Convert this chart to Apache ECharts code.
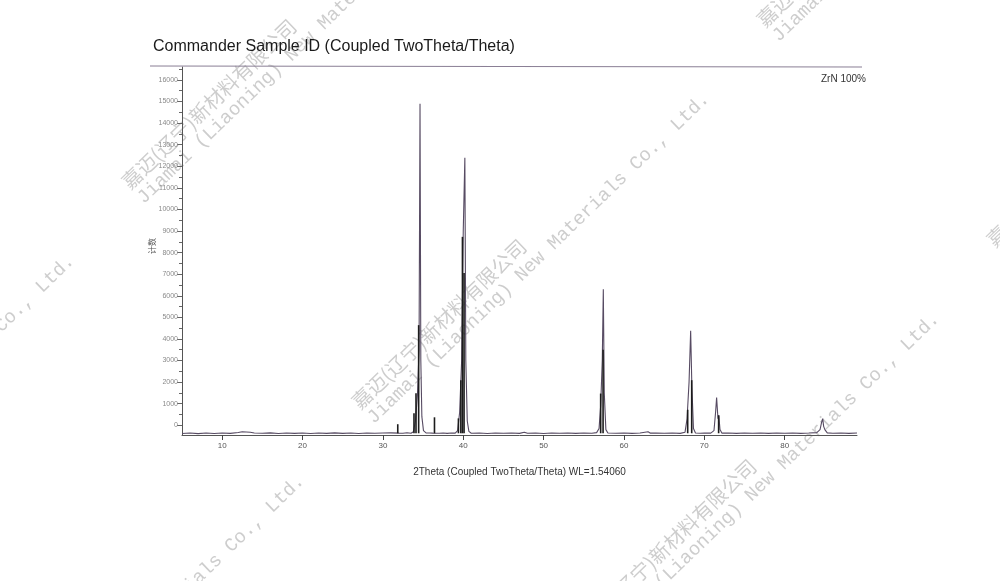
<!DOCTYPE html>
<html>
<head>
<meta charset="utf-8">
<script src="https://cdn.jsdelivr.net/npm/echarts@6/dist/echarts.min.js"></script>
<style>html,body{margin:0;padding:0;background:#fff}#c{width:1000px;height:581px}</style>
</head>
<body>
<div id="c"></div>
<script>
// ---- data ----
const titleText = 'Commander Sample ID (Coupled TwoTheta/Theta)';
const xAxisTitle = '2Theta (Coupled TwoTheta/Theta) WL=1.54060';
const yAxisTitle = '计数';
const legendText = 'ZrN 100%';
const xTickLabels = [10, 20, 30, 40, 50, 60, 70, 80];
const yTickLabels = [0,1000,2000,3000,4000,5000,6000,7000,8000,9000,10000,11000,12000,13000,14000,15000,16000];
const yMinorTicks = [500,1500,2500,3500,4500,5500,6500,7500,8500,9500,10500,11500,12500,13500,14500,15500,16500];
// measured scan [2theta, counts]
const scan = [
[5,-380],[6,-360],[7,-385],[8,-355],[9,-380],[10,-360],[11,-375],[12,-335],[12.5,-300],[13,-310],[13.5,-325],[14,-355],
[15,-370],[16,-350],[17,-380],[18,-360],[19,-375],[20,-355],[21,-380],[22,-360],[23,-375],[24,-350],[25,-375],[26,-360],
[27,-380],[28,-355],[29,-370],[30,-360],[31,-350],[32,-365],[32.5,-370],[33,-345],[33.5,-370],
[33.8,-300],[34.05,200],[34.3,1400],[34.5,3500],[34.62,14900],[34.72,3000],[34.85,400],[35.05,-250],[35.4,-360],
[35.8,-355],[36.2,-365],[37,-370],[37.5,-355],[38,-375],[38.5,-360],[39.0,-365],
[39.3,-250],[39.55,600],[39.8,3000],[40.0,9000],[40.2,12400],[40.32,3000],[40.5,200],[40.7,-280],
[41,-370],[42,-355],[43,-380],[44,-360],[45,-370],[46,-355],[47,-375],[47.6,-320],[48,-370],[49,-355],[50,-380],
[51,-360],[52,-370],[53,-355],[54,-375],[55,-360],[56,-370],[56.6,-340],
[56.9,-150],[57.1,900],[57.3,3000],[57.43,6300],[57.55,1500],[57.75,-200],[58,-360],
[59,-370],[60,-355],[61,-375],[62,-360],[63,-300],[63.3,-365],[64,-355],[65,-370],[66,-360],[67,-375],[67.6,-320],
[67.85,300],[68.1,2000],[68.3,4380],[68.45,1800],[68.65,-150],[68.9,-360],
[69.5,-370],[70,-355],[70.8,-365],[71.2,-250],[71.4,600],[71.53,1280],[71.7,300],[71.8,460],[71.95,-200],[72.2,-365],
[73,-355],[74,-375],[75,-360],[76,-370],[77,-355],[78,-375],[79,-360],[80,-370],[81,-355],[82,-375],[83,-360],
[84,-340],[84.4,-200],[84.6,150],[84.73,310],[84.85,-50],[85,-200],[85.3,-350],[86,-370],[87,-355],[88,-375],[89,-360]
];
// dark stick lines [2theta, counts], drawn up from the scan baseline
const stickBase = -370;
const sticks = [
[31.85,50],[33.87,560],[34.12,1480],[34.45,4640],[36.42,370],
[39.4,320],[39.7,2090],[39.9,8730],[40.1,7050],
[57.1,1470],[57.4,3500],[67.93,720],[68.43,2090],[71.78,460]
];
const wmChinese = '嘉迈(辽宁)新材料有限公司';
const wmEnglish = 'Jiamai (Liaoning) New Materials Co., Ltd.';

// ---- layout ----
const wmAnchors = [[125,185],[355,405],[585,625],[760,23],[990,243],[-280,567],[-50,787]];
const wmRot = 44 * Math.PI / 180;

const chart = echarts.init(document.getElementById('c'), null, {renderer:'canvas'});
const graphics = [
  {type:'line', shape:{x1:150,y1:66,x2:862,y2:67}, style:{stroke:'#8a7f95', lineWidth:1.2}, z:5},
  {type:'text', x:866, y:79, style:{text:legendText, align:'right', verticalAlign:'middle', font:'10px "Liberation Sans"', fill:'#333'}, z:5},
  {type:'text', x:152, y:246, rotation:Math.PI/2, style:{text:yAxisTitle, align:'center', verticalAlign:'middle', font:'8px "Noto Sans CJK SC"', fill:'#555'}, z:5}
];
wmAnchors.forEach(p => {
  graphics.push({
    type:'group', x:p[0], y:p[1], rotation:wmRot, z:50, silent:true,
    children:[
      {type:'text', x:0, y:0, style:{text:wmChinese, align:'left', verticalAlign:'middle', font:'20px "Noto Sans CJK SC"', fill:'rgba(130,130,130,0.4)'}},
      {type:'text', x:0, y:22, style:{text:wmEnglish, align:'left', verticalAlign:'middle', font:'19px "Liberation Mono"', fill:'rgba(130,130,130,0.4)'}}
    ]
  });
});

const yMin = -450, yMax = 16600;
chart.setOption({
  animation:false,
  backgroundColor:'#fff',
  title:{text:titleText, left:153, top:39, padding:0, textStyle:{fontSize:16, fontWeight:'normal', color:'#1a1a1a', fontFamily:'Liberation Sans'}},
  grid:{left:182, right:143, top:67, bottom:146, containLabel:false},
  xAxis:{
    type:'value', min:5, max:89,
    name:xAxisTitle, nameLocation:'middle', nameGap:32,
    nameTextStyle:{fontSize:10, color:'#333', fontFamily:'Liberation Sans'},
    axisLine:{show:true, onZero:false, lineStyle:{color:'#555', width:1}},
    axisTick:{show:true, length:5, customValues:xTickLabels, lineStyle:{color:'#444'}},
    axisLabel:{customValues:xTickLabels, fontSize:8, color:'#555', margin:7, fontFamily:'Liberation Sans'},
    splitLine:{show:false}
  },
  yAxis:[{
    type:'value', min:yMin, max:yMax,
    axisLine:{show:true, lineStyle:{color:'#555', width:1}},
    axisTick:{show:true, length:5, customValues:yTickLabels, lineStyle:{color:'#666'}},
    axisLabel:{customValues:yTickLabels, formatter:v => String(v), fontSize:7, color:'#8a8a8a', margin:4, fontFamily:'Liberation Sans'},
    splitLine:{show:false}
  },{
    type:'value', min:yMin, max:yMax, position:'left',
    axisLine:{show:false},
    axisTick:{show:true, length:3, customValues:yMinorTicks, lineStyle:{color:'#666'}},
    axisLabel:{show:false},
    splitLine:{show:false}
  }],
  series:[
    {type:'line', data:scan, showSymbol:false, symbol:'none', smooth:false,
     lineStyle:{color:'#574b63', width:1.1}, z:3},
    {type:'custom', data:sticks, encode:{x:0, y:1}, z:4,
     renderItem:function(params, api){
       const x = api.value(0), h = api.value(1);
       const a = api.coord([x, stickBase]);
       const b = api.coord([x, h]);
       return {type:'line', shape:{x1:a[0], y1:a[1], x2:b[0], y2:b[1]}, style:{stroke:'#1c1c1c', lineWidth:1.6}};
     }}
  ],
  graphic:graphics
});
</script>
</body>
</html>
